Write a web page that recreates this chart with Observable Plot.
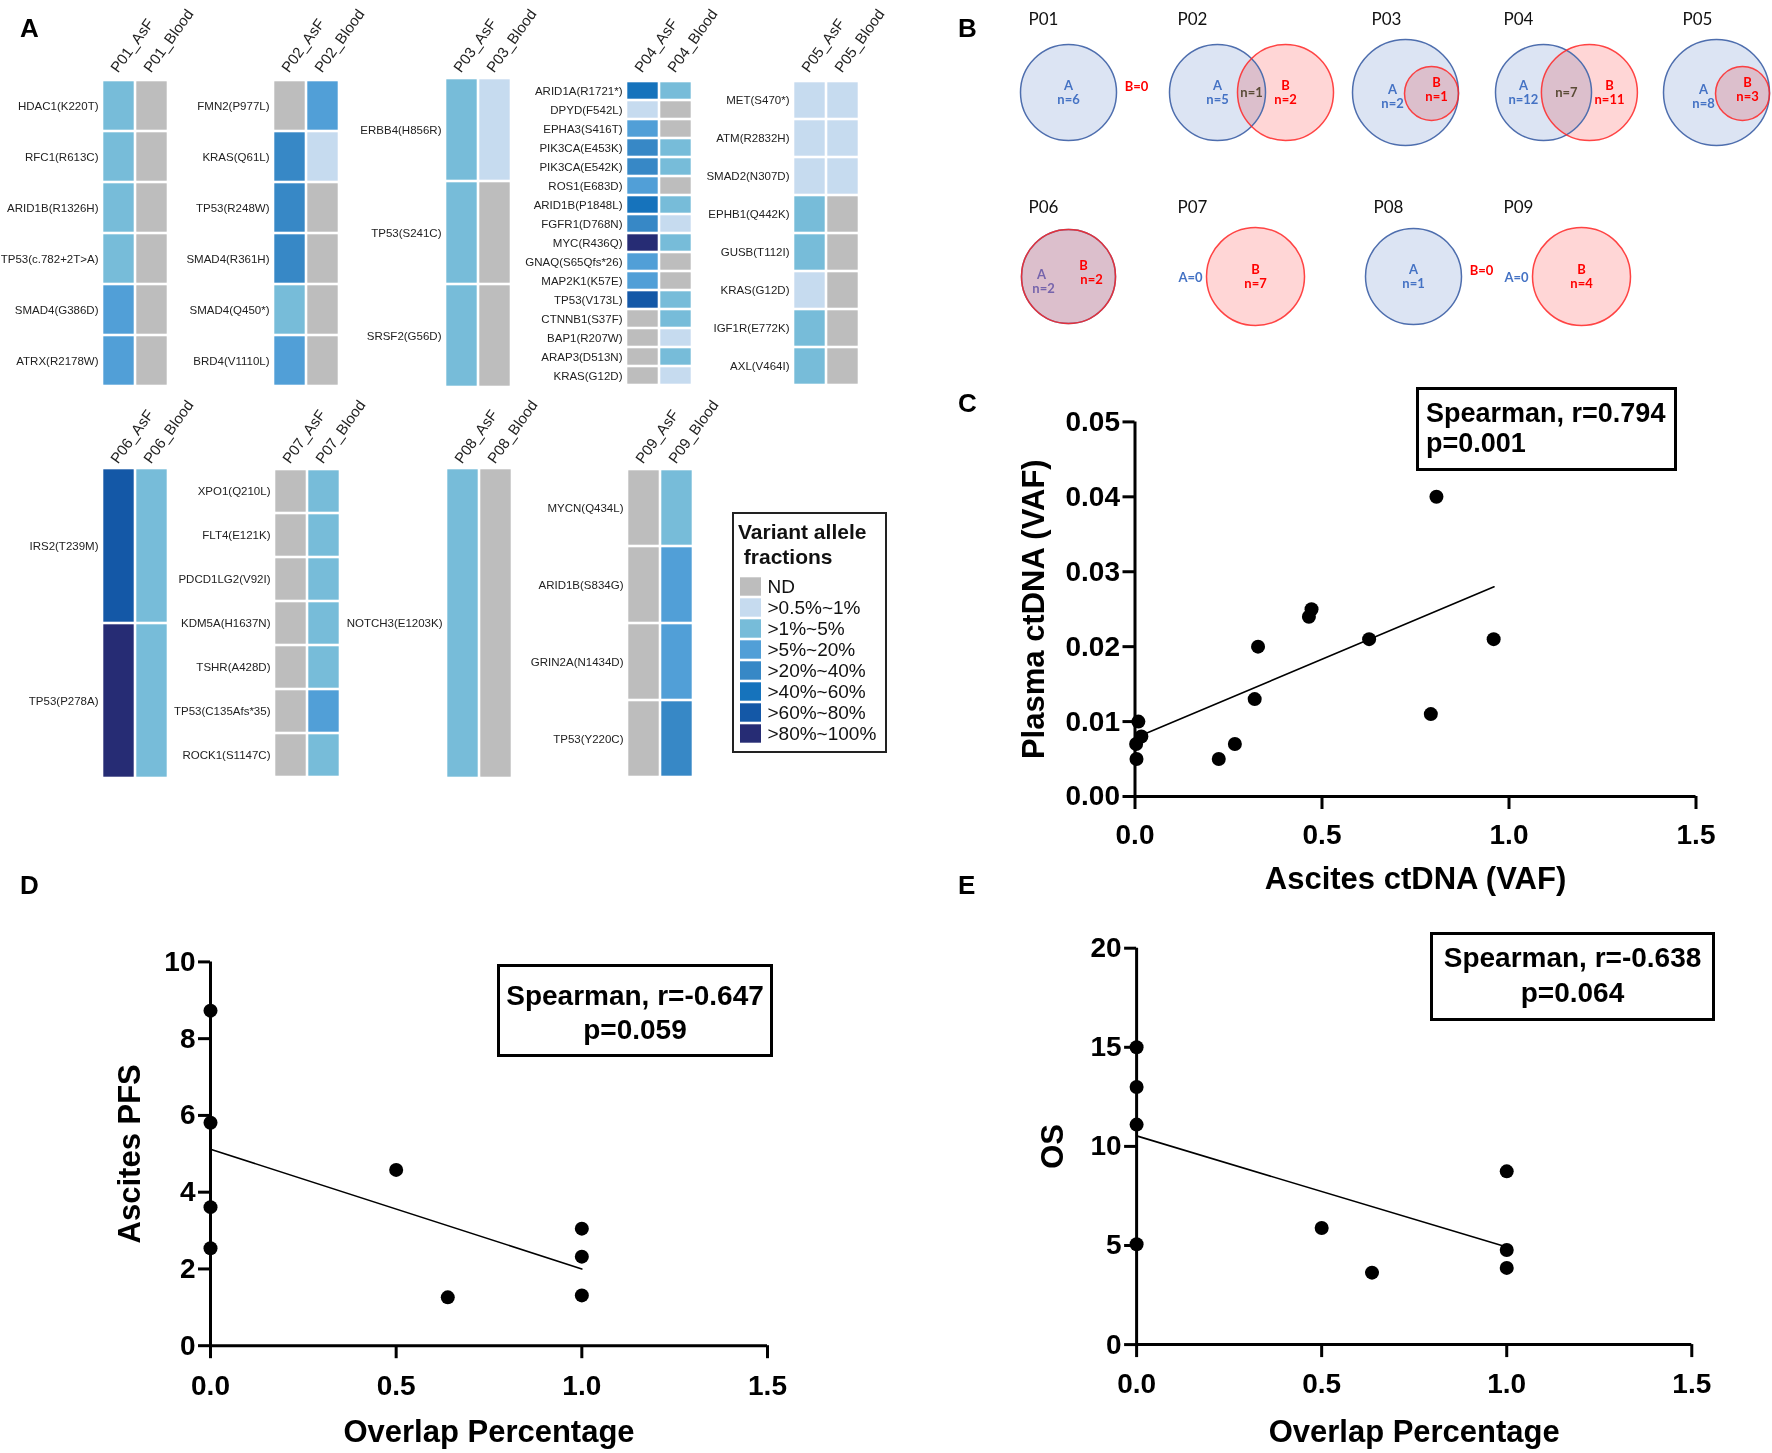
<!DOCTYPE html>
<html><head><meta charset="utf-8">
<script src="https://cdn.jsdelivr.net/npm/d3@7"></script>
<script src="https://cdn.jsdelivr.net/npm/@observablehq/plot@0.6"></script>
<style>
body{margin:0;background:#fff;}
#fig{position:relative;width:1772px;height:1453px;overflow:hidden;background:#fff;font-family:"Liberation Sans",Arial,sans-serif;}
svg{overflow:visible;display:block}
.letter{position:absolute;font-weight:bold;line-height:1;color:#000;font-family:"Liberation Sans",Arial,sans-serif;}
</style></head>
<body><div id="fig"></div>
<script>
// ---------------- DATA ----------------
const vafLevels = ["ND", ">0.5%~1%", ">1%~5%", ">5%~20%", ">20%~40%", ">40%~60%", ">60%~80%", ">80%~100%"];
const vafColors = ["#bdbdbd", "#c6dbef", "#77bcd9", "#519fd7", "#3788c6", "#1673bc", "#1458a7", "#262c74"];

// level index into vafLevels
const p01Genes = ["HDAC1(K220T)", "RFC1(R613C)", "ARID1B(R1326H)", "TP53(c.782+2T>A)", "SMAD4(G386D)", "ATRX(R2178W)"];
const p01AsF   = [2, 2, 2, 2, 3, 3];
const p01Blood = [0, 0, 0, 0, 0, 0];

const p02Genes = ["FMN2(P977L)", "KRAS(Q61L)", "TP53(R248W)", "SMAD4(R361H)", "SMAD4(Q450*)", "BRD4(V1110L)"];
const p02AsF   = [0, 4, 4, 4, 2, 3];
const p02Blood = [3, 1, 0, 0, 0, 0];

const p03Genes = ["ERBB4(H856R)", "TP53(S241C)", "SRSF2(G56D)"];
const p03AsF   = [2, 2, 2];
const p03Blood = [1, 0, 0];

const p04Genes = ["ARID1A(R1721*)", "DPYD(F542L)", "EPHA3(S416T)", "PIK3CA(E453K)", "PIK3CA(E542K)", "ROS1(E683D)", "ARID1B(P1848L)", "FGFR1(D768N)", "MYC(R436Q)", "GNAQ(S65Qfs*26)", "MAP2K1(K57E)", "TP53(V173L)", "CTNNB1(S37F)", "BAP1(R207W)", "ARAP3(D513N)", "KRAS(G12D)"];
const p04AsF   = [5, 1, 3, 4, 4, 3, 5, 4, 7, 3, 3, 6, 0, 0, 0, 0];
const p04Blood = [2, 0, 0, 2, 2, 0, 2, 1, 2, 0, 0, 2, 2, 1, 2, 1];

const p05Genes = ["MET(S470*)", "ATM(R2832H)", "SMAD2(N307D)", "EPHB1(Q442K)", "GUSB(T112I)", "KRAS(G12D)", "IGF1R(E772K)", "AXL(V464I)"];
const p05AsF   = [1, 1, 1, 2, 2, 1, 2, 2];
const p05Blood = [1, 1, 1, 0, 0, 0, 0, 0];

const p06Genes = ["IRS2(T239M)", "TP53(P278A)"];
const p06AsF   = [6, 7];
const p06Blood = [2, 2];

const p07Genes = ["XPO1(Q210L)", "FLT4(E121K)", "PDCD1LG2(V92I)", "KDM5A(H1637N)", "TSHR(A428D)", "TP53(C135Afs*35)", "ROCK1(S1147C)"];
const p07AsF   = [0, 0, 0, 0, 0, 0, 0];
const p07Blood = [2, 2, 2, 2, 2, 3, 2];

const p08Genes = ["NOTCH3(E1203K)"];
const p08AsF   = [2];
const p08Blood = [0];

const p09Genes = ["MYCN(Q434L)", "ARID1B(S834G)", "GRIN2A(N1434D)", "TP53(Y220C)"];
const p09AsF   = [0, 0, 0, 0];
const p09Blood = [2, 3, 3, 4];

// Venn counts (labels as printed)
const vennPatients = ["P01", "P02", "P03", "P04", "P05", "P06", "P07", "P08", "P09"];
const vennA      = [6, 5, 2, 12, 8, 2, 0, 1, 0];
const vennB      = [0, 2, 1, 11, 3, 2, 7, 0, 4];
const vennShared = [0, 1, 1, 7, 3, 2, 0, 0, 0];

// Panel C
const cAscites = [0.009, 0.017, 0.003, 0.004, 0.224, 0.267, 0.320, 0.329, 0.465, 0.472, 0.626, 0.791, 0.806, 0.959];
const cPlasma  = [0.010, 0.008, 0.007, 0.005, 0.005, 0.007, 0.013, 0.020, 0.024, 0.025, 0.021, 0.011, 0.040, 0.021];
const cFitX = [0, 0.96];
const cFitY = [0.0078, 0.028];
const cTicksX = [0, 0.5, 1.0, 1.5];
const cTicksY = [0, 0.01, 0.02, 0.03, 0.04, 0.05];
const cStat = ["Spearman, r=0.794", "p=0.001"];

// Panel D
const dOverlap = [0, 0, 0, 0, 0.5, 0.639, 1, 1, 1];
const dPFS     = [8.73, 5.81, 3.61, 2.54, 4.58, 1.26, 3.05, 2.32, 1.31];
const dFitX = [0, 1];
const dFitY = [5.12, 2.0];
const dTicksX = [0, 0.5, 1.0, 1.5];
const dTicksY = [0, 2, 4, 6, 8, 10];
const dStat = ["Spearman, r=-0.647", "p=0.059"];

// Panel E
const eOverlap = [0, 0, 0, 0, 0.5, 0.636, 1, 1, 1];
const eOS      = [15.0, 13.0, 11.1, 5.06, 5.88, 3.63, 8.74, 4.77, 3.87];
const eFitX = [0, 1];
const eFitY = [10.53, 4.92];
const eTicksX = [0, 0.5, 1.0, 1.5];
const eTicksY = [0, 5, 10, 15, 20];
const eStat = ["Spearman, r=-0.638", "p=0.064"];

// ---------------- LAYOUT ----------------
const fig = document.getElementById("fig");
function place(node, left, top) {
  node.style.position = "absolute";
  node.style.left = left + "px";
  node.style.top = top + "px";
  fig.append(node);
  return node;
}
function letter(t, left, top, size) {
  const s = document.createElement("div");
  s.className = "letter";
  s.style.fontSize = size + "px";
  s.textContent = t;
  place(s, left, top);
}

// ---------- Panel A: heatmaps ----------
function heatmap(id, genes, asf, blood, L) {
  const cols = [id + "_AsF", id + "_Blood"];
  const cells = genes.flatMap((g, i) => [
    {gene: g, sample: cols[0], level: vafLevels[asf[i]]},
    {gene: g, sample: cols[1], level: vafLevels[blood[i]]}
  ]);
  const fw = 67;
  return Plot.plot({
    width: L.ml + fw + 50, height: L.mt + L.h + 2,
    marginLeft: L.ml, marginRight: 50, marginTop: L.mt, marginBottom: 2,
    x: {domain: cols, padding: 0, axis: null},
    y: {domain: genes, padding: 0, tickSize: 0, tickPadding: 3, label: null},
    color: {domain: vafLevels, range: vafColors},
    style: {fontFamily: "Liberation Sans, Arial, sans-serif", fontSize: "11.5px", color: "#222", background: "transparent", overflow: "visible"},
    marks: [
      Plot.cell(cells, {x: "sample", y: "gene", fill: "level", inset: 1.3}),
      Plot.text(cols, {x: d => d, text: d => d, frameAnchor: "top", rotate: -54, textAnchor: "start", lineAnchor: "bottom", dx: -1, dy: -4, fontSize: 15, fill: "#222"})
    ]
  });
}
const heatSets = [
  ["P01", p01Genes, p01AsF, p01Blood, {left: 0,   top: 0,   ml: 101, mt: 77, h: 311}],
  ["P02", p02Genes, p02AsF, p02Blood, {left: 170, top: 0,   ml: 102, mt: 77, h: 311}],
  ["P03", p03Genes, p03AsF, p03Blood, {left: 330, top: 0,   ml: 114, mt: 77, h: 311}],
  ["P04", p04Genes, p04AsF, p04Blood, {left: 515, top: 0,   ml: 110, mt: 77, h: 311}],
  ["P05", p05Genes, p05AsF, p05Blood, {left: 695, top: 0,   ml: 97,  mt: 77, h: 311}],
  ["P06", p06Genes, p06AsF, p06Blood, {left: 0,   top: 390, ml: 101, mt: 78, h: 310}],
  ["P07", p07Genes, p07AsF, p07Blood, {left: 170, top: 390, ml: 103, mt: 78, h: 310}],
  ["P08", p08Genes, p08AsF, p08Blood, {left: 330, top: 390, ml: 115, mt: 78, h: 310}],
  ["P09", p09Genes, p09AsF, p09Blood, {left: 515, top: 390, ml: 111, mt: 78, h: 310}]
];
for (const [id, g, a, b, L] of heatSets) place(heatmap(id, g, a, b, L), L.left, L.top);

// legend
const lg = document.createElement("div");
lg.style.cssText = "width:155px;height:241px;border:2px solid #222;box-sizing:border-box;font-weight:bold;font-size:21px;line-height:25px;padding:5px 0 0 4px;color:#111;";
lg.innerHTML = "Variant allele<br>&nbsp;fractions";
place(lg, 732, 512);
const legendPlot = Plot.plot({
  width: 21 + 130, height: 169,
  marginLeft: 0, marginRight: 130, marginTop: 0, marginBottom: 0,
  y: {domain: vafLevels, padding: 0, axis: null},
  color: {domain: vafLevels, range: vafColors},
  style: {fontFamily: "Liberation Sans, Arial, sans-serif", background: "transparent", overflow: "visible"},
  marks: [
    Plot.cell(vafLevels, {y: d => d, fill: d => d, insetTop: 1.3, insetBottom: 1.3}),
    Plot.text(vafLevels, {y: d => d, text: d => d, frameAnchor: "right", textAnchor: "start", dx: 6, fontSize: 19, fill: "#111"})
  ]
});
place(legendPlot, 740, 574.7);

// ---------- Panel B: Venn diagrams ----------
const VX = 930;
const vennLeft = [1028, 1177, 1371, 1503, 1682, 1028, 1177, 1373, 1503];
const vennRow = [0, 0, 0, 0, 0, 1, 1, 1, 1];
const rowCy = [92, 276], rowTy = [19, 207];
const BLUE_T = "#4472c4", RED_T = "#ff0000", MID_T = "#5a4b36", PURP_T = "#7664ac";
const blueC = [], redC = [], labels = [], titles = [];
vennPatients.forEach((p, i) => {
  const L = vennLeft[i] - VX, cy = rowCy[vennRow[i]];
  titles.push({x: L, y: rowTy[vennRow[i]], t: p});
  const a = vennA[i], b = vennB[i], s = vennShared[i], R = 48;
  const two = (x, y1, t1, t2, c) => { labels.push({x, y: y1, t: t1, c}); labels.push({x, y: y1 + 14, t: t2, c}); };
  if (b === 0) {
    const cx = L + 40;
    blueC.push({x: cx, y: cy, r: R});
    two(cx, cy - 7, "A", "n=" + a, BLUE_T);
    labels.push({x: cx + R + 20, y: cy - 6, t: "B=0", c: RED_T});
  } else if (a === 0) {
    const cx = L + 78;
    redC.push({x: cx, y: cy, r: R + 1});
    labels.push({x: L + 13, y: cy + 1, t: "A=0", c: BLUE_T});
    two(cx, cy - 7, "B", "n=" + b, RED_T);
  } else if (s === a && s === b) {
    const cx = L + 40;
    blueC.push({x: cx, y: cy, r: R - 1});
    redC.push({x: cx, y: cy, r: R - 1});
    labels.push({x: cx - 27, y: cy - 2, t: "A", c: PURP_T});
    labels.push({x: cx - 25, y: cy + 12, t: "n=" + a, c: PURP_T});
    labels.push({x: cx + 15, y: cy - 11, t: "B", c: RED_T});
    labels.push({x: cx + 23, y: cy + 3, t: "n=" + b, c: RED_T});
  } else if (s === b) {
    const rA = 53, rB = 27, cA = L + 34, cB = cA + rA - rB;
    blueC.push({x: cA, y: cy, r: rA});
    redC.push({x: cB, y: cy + 1, r: rB});
    two(cB - rB - 12, cy - 3, "A", "n=" + a, BLUE_T);
    two(cB + 5, cy - 10, "B", "n=" + b, RED_T);
  } else {
    const cA = L + 40, d = 2 * R * 0.85 * (1 - s / (a + b - s)), cB = cA + d;
    const push = Math.max(0, (2 * R - d) - 30);
    blueC.push({x: cA, y: cy, r: R});
    redC.push({x: cB, y: cy, r: R});
    two(cA - push, cy - 7, "A", "n=" + a, BLUE_T);
    two(cB + push, cy - 7, "B", "n=" + b, RED_T);
    labels.push({x: (cA + cB) / 2, y: cy, t: "n=" + s, c: MID_T});
  }
});
const vennPlot = Plot.plot({
  width: 842, height: 330, margin: 0,
  x: {type: "identity", axis: null}, y: {type: "identity", axis: null},
  r: {type: "identity"}, color: {type: "identity"},
  style: {fontFamily: "Lato, 'Open Sans', sans-serif", background: "transparent", overflow: "visible"},
  marks: [
    Plot.dot(blueC, {x: "x", y: "y", r: "r", fill: "#dce4f3", stroke: null}),
    Plot.dot(redC, {x: "x", y: "y", r: "r", fill: "#ffd6d6", stroke: null, mixBlendMode: "multiply"}),
    Plot.dot(blueC, {x: "x", y: "y", r: "r", fill: "none", stroke: "#4e6eae", strokeWidth: 1.5}),
    Plot.dot(redC, {x: "x", y: "y", r: "r", fill: "none", stroke: "#ff2626", strokeWidth: 1.5, strokeOpacity: 0.85}),
    Plot.text(labels, {x: "x", y: "y", text: "t", fill: "c", fontSize: 13, fontWeight: "bold"}),
    Plot.text(titles, {x: "x", y: "y", text: "t", fill: "#111", fontSize: 17, textAnchor: "start"})
  ]
});
place(vennPlot, VX, 0);

// ---------- Panels C, D, E: scatter plots ----------
function scatterPanel(cfg) {
  const pts = cfg.xs.map((x, i) => ({x, y: cfg.ys[i]}));
  const fit = cfg.fitX.map((x, i) => ({x, y: cfg.fitY[i]}));
  const chart = Plot.plot({
    width: cfg.ml + cfg.fw + 40, height: cfg.mt + cfg.fh + cfg.mb,
    marginLeft: cfg.ml, marginRight: 40, marginTop: cfg.mt, marginBottom: cfg.mb,
    x: {domain: cfg.xDomain}, y: {domain: cfg.yDomain},
    style: {fontFamily: "Liberation Sans, Arial, sans-serif", color: "#000", background: "transparent", overflow: "visible"},
    marks: [
      Plot.ruleY([0], {strokeWidth: 3}),
      Plot.ruleX([0], {strokeWidth: 3}),
      Plot.axisX({ticks: cfg.xTicks, tickFormat: d3.format(".1f"), tickSize: 13, tickPadding: cfg.xPad, strokeWidth: 3, fontSize: 28, fontWeight: "bold", label: null}),
      Plot.axisY({ticks: cfg.yTicks, tickFormat: cfg.yFormat, tickSize: 12, tickPadding: 3, strokeWidth: 3, fontSize: 28, fontWeight: "bold", label: null}),
      Plot.line(fit, {x: "x", y: "y", strokeWidth: 1.6, stroke: "#000"}),
      Plot.dot(pts, {x: "x", y: "y", r: 7, fill: "#000"}),
      Plot.text([cfg.xTitle], {text: d => d, frameAnchor: "bottom", lineAnchor: "middle", textAnchor: "middle", dy: cfg.xTitleDy, fontSize: 31, fontWeight: "bold"}),
      Plot.text([cfg.yTitle], {text: d => d, frameAnchor: "left", lineAnchor: "middle", textAnchor: "middle", rotate: -90, dx: cfg.yTitleDx, fontSize: 31, fontWeight: "bold"})
    ]
  });
  place(chart, cfg.left, cfg.top);
  const b = cfg.box;
  const box = document.createElement("div");
  box.style.cssText = `width:${b.w}px;height:${b.h}px;border:3px solid #000;box-sizing:border-box;font-weight:bold;font-size:${b.fs}px;line-height:${b.lh}px;padding-top:${b.pt}px;padding-left:${b.pl}px;text-align:${b.align};color:#000;white-space:nowrap;font-family:'Liberation Sans',Arial,sans-serif;`;
  box.innerHTML = cfg.stat.join("<br>");
  place(box, b.left, b.top);
}

scatterPanel({
  left: 990, top: 360, ml: 144.5, fw: 561, mt: 61.4, fh: 374.6, mb: 100,
  xs: cAscites, ys: cPlasma, fitX: cFitX, fitY: cFitY,
  xDomain: [0, 1.5], yDomain: [0, 0.05], xTicks: cTicksX, yTicks: cTicksY, yFormat: d3.format(".2f"),
  xPad: 15,
  xTitle: "Ascites ctDNA (VAF)", yTitle: "Plasma ctDNA (VAF)", xTitleDy: 83, yTitleDx: -101,
  stat: cStat, box: {left: 1416, top: 387, w: 261, h: 84, fs: 27, lh: 30, pt: 8, pl: 7, align: "left"}
});
scatterPanel({
  left: 60, top: 860, ml: 150, fw: 557, mt: 101.4, fh: 383.8, mb: 107.8,
  xs: dOverlap, ys: dPFS, fitX: dFitX, fitY: dFitY,
  xDomain: [0, 1.5], yDomain: [0, 10], xTicks: dTicksX, yTicks: dTicksY, yFormat: d3.format("d"),
  xPad: 16,
  xTitle: "Overlap Percentage", yTitle: "Ascites PFS", xTitleDy: 86, yTitleDx: -80,
  stat: dStat, box: {left: 497, top: 964, w: 276, h: 93, fs: 28, lh: 34, pt: 12, pl: 0, align: "center"}
});
scatterPanel({
  left: 990, top: 860, ml: 146.1, fw: 555.2, mt: 87.7, fh: 396.4, mb: 108.9,
  xs: eOverlap, ys: eOS, fitX: eFitX, fitY: eFitY,
  xDomain: [0, 1.5], yDomain: [0, 20], xTicks: eTicksX, yTicks: eTicksY, yFormat: d3.format("d"),
  xPad: 16,
  xTitle: "Overlap Percentage", yTitle: "OS", xTitleDy: 87, yTitleDx: -84,
  stat: eStat, box: {left: 1430, top: 932, w: 285, h: 89, fs: 28, lh: 35, pt: 5, pl: 0, align: "center"}
});

// panel letters
letter("A", 20, 15, 26);
letter("B", 958, 15, 26);
letter("C", 958, 390, 26);
letter("D", 20, 872, 26);
letter("E", 958, 872, 26);
</script>
</body></html>
